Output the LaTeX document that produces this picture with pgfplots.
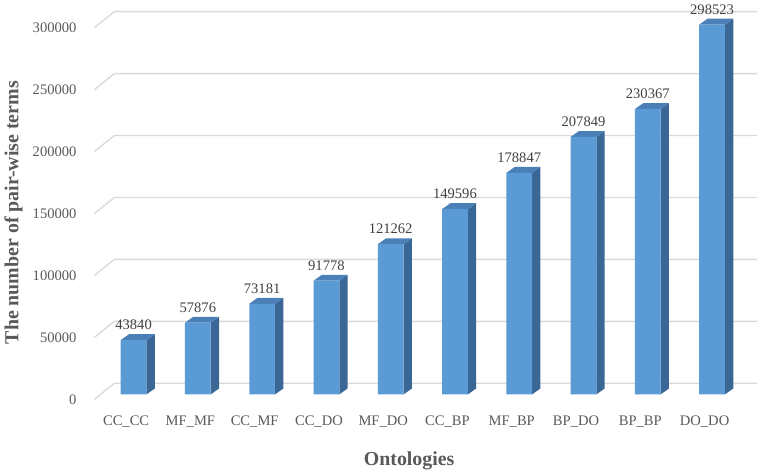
\documentclass[border=0pt]{standalone}
\usepackage{fontspec}
\setmainfont{Liberation Serif}
\usepackage{pgfplots}
\pgfplotsset{compat=1.18}
\usepackage{pgfplotstable}

\definecolor{barfront}{HTML}{5B9BD5}
\definecolor{bartop}{HTML}{4A7FB8}
\definecolor{barside}{HTML}{3A6795}
\definecolor{gridgray}{HTML}{D9D9D9}
\definecolor{textgray}{HTML}{595959}
\definecolor{valgray}{HTML}{404040}

% number of pair-wise terms per ontology pair
\pgfplotstableread{
x v
0 43840
1 57876
2 73181
3 91778
4 121262
5 149596
6 178847
7 207849
8 230367
9 298523
}\terms

\begin{document}
\begin{tikzpicture}
\begin{axis}[
	scale only axis, width=500.25pt, height=295.5pt,
	xmin=-0.61, xmax=9.70, ymin=-4000, ymax=312000,
	clip=false,
	axis line style={draw=none}, tick style={draw=none},
	scaled y ticks=false,
	/pgf/number format/assume math mode=true,
	xtick={-0.116,0.884,1.884,2.884,3.884,4.884,5.884,6.884,7.884,8.884},
	xticklabels={CC\_CC,MF\_MF,CC\_MF,CC\_DO,MF\_DO,CC\_BP,MF\_BP,BP\_DO,BP\_BP,DO\_DO},
	ytick={-4000,46000,96000,146000,196000,246000,296000},
	yticklabels={0,50000,100000,150000,200000,250000,300000},
	ticklabel style={font=\fontsize{11}{13}\selectfont, text=textgray},
	xticklabel style={yshift=-9pt},
	yticklabel style={xshift=-10pt},
	xlabel={Ontologies},
	ylabel={The number of pair-wise terms},
	label style={font=\fontsize{15}{18}\selectfont\bfseries, text=textgray},
	xlabel style={at={(axis description cs:0.475,-0.158)}, anchor=center},
	ylabel style={at={(axis description cs:-0.122,0.477)}, anchor=center},
]
% gridlines: front edge, diagonal to back wall, then along the wall
\addplot[gridgray, line width=1pt] coordinates {(-0.61,-4000) (-0.30,9000) (9.70,9000)};
\addplot[gridgray, line width=1pt] coordinates {(-0.61,46000) (-0.30,59000) (9.70,59000)};
\addplot[gridgray, line width=1pt] coordinates {(-0.61,96000) (-0.30,109000) (9.70,109000)};
\addplot[gridgray, line width=1pt] coordinates {(-0.61,146000) (-0.30,159000) (9.70,159000)};
\addplot[gridgray, line width=1pt] coordinates {(-0.61,196000) (-0.30,209000) (9.70,209000)};
\addplot[gridgray, line width=1pt] coordinates {(-0.61,246000) (-0.30,259000) (9.70,259000)};
\addplot[gridgray, line width=1pt] coordinates {(-0.61,296000) (-0.30,309000) (9.70,309000)};

% side faces (depth 0.13 x, 4800 y)
\addplot[fill=barside, draw=none] coordinates {(0.2,0) (0.33,4800) (0.33,48640) (0.2,43840)} -- cycle;
\addplot[fill=barside, draw=none] coordinates {(1.2,0) (1.33,4800) (1.33,62676) (1.2,57876)} -- cycle;
\addplot[fill=barside, draw=none] coordinates {(2.2,0) (2.33,4800) (2.33,77981) (2.2,73181)} -- cycle;
\addplot[fill=barside, draw=none] coordinates {(3.2,0) (3.33,4800) (3.33,96578) (3.2,91778)} -- cycle;
\addplot[fill=barside, draw=none] coordinates {(4.2,0) (4.33,4800) (4.33,126062) (4.2,121262)} -- cycle;
\addplot[fill=barside, draw=none] coordinates {(5.2,0) (5.33,4800) (5.33,154396) (5.2,149596)} -- cycle;
\addplot[fill=barside, draw=none] coordinates {(6.2,0) (6.33,4800) (6.33,183647) (6.2,178847)} -- cycle;
\addplot[fill=barside, draw=none] coordinates {(7.2,0) (7.33,4800) (7.33,212649) (7.2,207849)} -- cycle;
\addplot[fill=barside, draw=none] coordinates {(8.2,0) (8.33,4800) (8.33,235167) (8.2,230367)} -- cycle;
\addplot[fill=barside, draw=none] coordinates {(9.2,0) (9.33,4800) (9.33,303323) (9.2,298523)} -- cycle;

% top faces
\addplot[fill=bartop, draw=none] coordinates {(-0.2,43840) (0.2,43840) (0.33,48640) (-0.07,48640)} -- cycle;
\addplot[fill=bartop, draw=none] coordinates {(0.8,57876) (1.2,57876) (1.33,62676) (0.93,62676)} -- cycle;
\addplot[fill=bartop, draw=none] coordinates {(1.8,73181) (2.2,73181) (2.33,77981) (1.93,77981)} -- cycle;
\addplot[fill=bartop, draw=none] coordinates {(2.8,91778) (3.2,91778) (3.33,96578) (2.93,96578)} -- cycle;
\addplot[fill=bartop, draw=none] coordinates {(3.8,121262) (4.2,121262) (4.33,126062) (3.93,126062)} -- cycle;
\addplot[fill=bartop, draw=none] coordinates {(4.8,149596) (5.2,149596) (5.33,154396) (4.93,154396)} -- cycle;
\addplot[fill=bartop, draw=none] coordinates {(5.8,178847) (6.2,178847) (6.33,183647) (5.93,183647)} -- cycle;
\addplot[fill=bartop, draw=none] coordinates {(6.8,207849) (7.2,207849) (7.33,212649) (6.93,212649)} -- cycle;
\addplot[fill=bartop, draw=none] coordinates {(7.8,230367) (8.2,230367) (8.33,235167) (7.93,235167)} -- cycle;
\addplot[fill=bartop, draw=none] coordinates {(8.8,298523) (9.2,298523) (9.33,303323) (8.93,303323)} -- cycle;

% front faces with value labels
\addplot[ybar, bar width=0.4, fill=barfront, draw=none,
	point meta=explicit symbolic, nodes near coords,
	nodes near coords style={font=\fontsize{11}{13}\selectfont, text=valgray, anchor=base, yshift=8pt, inner sep=0pt}]
	table[x=x, y=v, meta=v] {\terms};
\end{axis}
\path ([xshift=-67.5pt,yshift=-51pt]current axis.south west) rectangle ([xshift=4.5pt,yshift=6pt]current axis.north east);
\end{tikzpicture}
\end{document}
